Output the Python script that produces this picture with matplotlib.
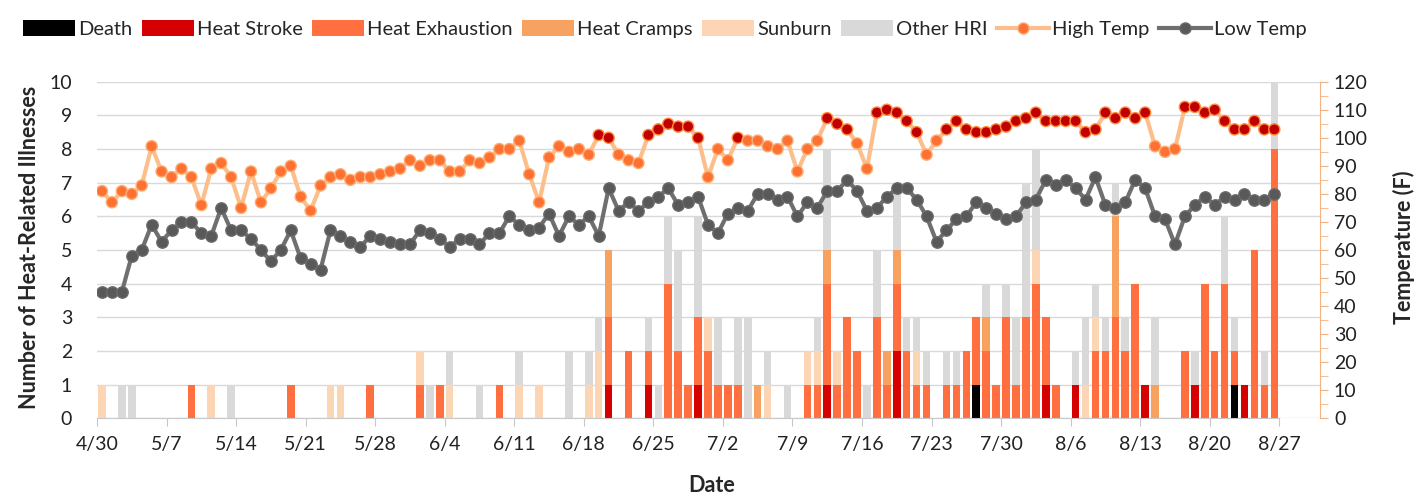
import numpy as np
import pandas as pd
import matplotlib as mpl
mpl.use("Agg")
import matplotlib.pyplot as plt
from matplotlib.patches import Patch
from matplotlib.lines import Line2D
from matplotlib.ticker import MultipleLocator

plt.rcParams["font.family"] = ["Lato", "DejaVu Sans"]

# daily values, 4/30 .. 8/26, one row per week
death = [
    0, 0, 0, 0, 0, 0, 0,  0, 0, 0, 0, 0, 0, 0,  0, 0, 0, 0, 0, 0, 0,
    0, 0, 0, 0, 0, 0, 0,  0, 0, 0, 0, 0, 0, 0,  0, 0, 0, 0, 0, 0, 0,
    0, 0, 0, 0, 0, 0, 0,  0, 0, 0, 0, 0, 0, 0,  0, 0, 0, 0, 0, 0, 0,
    0, 0, 0, 0, 0, 0, 0,  0, 0, 0, 0, 0, 0, 0,  0, 0, 0, 0, 0, 0, 0,
    0, 0, 0, 0, 1, 0, 0,  0, 0, 0, 0, 0, 0, 0,  0, 0, 0, 0, 0, 0, 0,
    0, 0, 0, 0, 0, 0, 0,  0, 0, 1, 0, 0, 0, 0,
]
heat_stroke = [
    0, 0, 0, 0, 0, 0, 0,  0, 0, 0, 0, 0, 0, 0,  0, 0, 0, 0, 0, 0, 0,
    0, 0, 0, 0, 0, 0, 0,  0, 0, 0, 0, 0, 0, 0,  0, 0, 0, 0, 0, 0, 0,
    0, 0, 0, 0, 0, 0, 0,  0, 0, 1, 0, 0, 0, 1,  0, 0, 0, 0, 1, 0, 0,
    0, 0, 0, 0, 0, 0, 0,  0, 0, 0, 1, 0, 0, 0,  0, 0, 0, 2, 0, 0, 0,
    0, 0, 0, 0, 0, 0, 0,  0, 0, 0, 0, 1, 0, 0,  1, 0, 0, 0, 0, 0, 0,
    1, 0, 0, 0, 0, 1, 0,  0, 0, 0, 1, 0, 0, 0,
]
heat_exhaustion = [
    0, 0, 0, 0, 0, 0, 0,  0, 0, 1, 0, 0, 0, 0,  0, 0, 0, 0, 0, 1, 0,
    0, 0, 0, 0, 0, 0, 1,  0, 0, 0, 0, 1, 0, 1,  0, 0, 0, 0, 0, 1, 0,
    0, 0, 0, 0, 0, 0, 0,  0, 0, 2, 0, 2, 0, 1,  0, 4, 2, 1, 2, 2, 1,
    1, 1, 0, 0, 0, 0, 0,  0, 1, 1, 3, 1, 3, 2,  0, 3, 1, 2, 2, 1, 1,
    0, 1, 1, 2, 2, 2, 1,  3, 1, 3, 4, 2, 1, 0,  0, 0, 2, 2, 3, 2, 4,
    0, 0, 0, 0, 2, 0, 4,  2, 4, 1, 0, 5, 1, 8,
]
heat_cramps = [
    0, 0, 0, 0, 0, 0, 0,  0, 0, 0, 0, 0, 0, 0,  0, 0, 0, 0, 0, 0, 0,
    0, 0, 0, 0, 0, 0, 0,  0, 0, 0, 0, 0, 0, 0,  0, 0, 0, 0, 0, 0, 0,
    0, 0, 0, 0, 0, 0, 0,  0, 0, 2, 0, 0, 0, 0,  0, 0, 0, 0, 0, 0, 0,
    0, 0, 0, 1, 0, 0, 0,  0, 0, 0, 1, 0, 0, 0,  0, 0, 1, 1, 0, 0, 0,
    0, 0, 0, 0, 0, 1, 0,  0, 0, 0, 0, 0, 0, 0,  0, 0, 0, 0, 3, 0, 0,
    0, 1, 0, 0, 0, 0, 0,  0, 0, 0, 0, 0, 0, 0,
]
sunburn = [
    1, 0, 0, 0, 0, 0, 0,  0, 0, 0, 0, 1, 0, 0,  0, 0, 0, 0, 0, 0, 0,
    0, 0, 1, 1, 0, 0, 0,  0, 0, 0, 0, 1, 0, 0,  1, 0, 0, 0, 0, 0, 0,
    1, 0, 1, 0, 0, 0, 0,  1, 2, 0, 0, 0, 0, 0,  0, 0, 0, 0, 0, 1, 0,
    0, 0, 0, 0, 1, 0, 0,  0, 1, 1, 0, 1, 0, 0,  0, 0, 0, 0, 0, 1, 0,
    0, 0, 0, 0, 0, 0, 0,  0, 0, 0, 1, 0, 0, 0,  0, 1, 1, 0, 0, 0, 0,
    0, 0, 0, 0, 0, 0, 0,  0, 0, 0, 0, 0, 0, 0,
]
other_hri = [
    0, 0, 1, 1, 0, 0, 0,  0, 0, 0, 0, 0, 0, 1,  0, 0, 0, 0, 0, 0, 0,
    0, 0, 0, 0, 0, 0, 0,  0, 0, 0, 0, 0, 1, 0,  1, 0, 0, 1, 0, 0, 0,
    1, 0, 0, 0, 0, 2, 0,  1, 1, 0, 0, 0, 0, 1,  1, 2, 3, 0, 3, 0, 2,
    0, 2, 3, 0, 1, 0, 1,  0, 0, 1, 3, 0, 0, 0,  1, 2, 0, 2, 1, 1, 1,
    0, 1, 1, 0, 0, 1, 0,  1, 2, 4, 3, 0, 0, 0,  1, 2, 1, 1, 1, 1, 0,
    0, 2, 0, 0, 0, 1, 0,  0, 2, 1, 0, 0, 1, 2,
]
high_temp = [
    81, 77, 81, 80, 83, 97, 88,  86, 89, 86, 76, 89, 91, 86,  75, 88, 77, 82, 88, 90, 79,
    74, 83, 86, 87, 85, 86, 86,  87, 88, 89, 92, 90, 92, 92,  88, 88, 92, 91, 93, 96, 96,
    99, 87, 77, 93, 97, 95, 96,  94, 101, 100, 94, 92, 91, 101,  103, 105, 104, 104, 100, 86, 96,
    92, 100, 99, 99, 97, 96, 99,  88, 96, 99, 107, 105, 103, 98,  89, 109, 110, 109, 106, 102, 94,
    99, 103, 106, 103, 102, 102, 103,  104, 106, 107, 109, 106, 106, 106,  106, 102, 103, 109, 107, 109, 107,
    109, 97, 95, 96, 111, 111, 109,  110, 106, 103, 103, 106, 103, 103,
]
low_temp = [
    45, 45, 45, 58, 60, 69, 63,  67, 70, 70, 66, 65, 75, 67,  67, 64, 60, 56, 60, 67, 57,
    55, 53, 67, 65, 63, 61, 65,  64, 63, 62, 62, 67, 66, 64,  61, 64, 64, 62, 66, 66, 72,
    69, 67, 68, 73, 65, 72, 69,  72, 65, 82, 74, 77, 74, 77,  79, 82, 76, 77, 79, 69, 66,
    73, 75, 74, 80, 80, 78, 79,  72, 77, 75, 81, 81, 85, 81,  74, 75, 79, 82, 82, 78, 72,
    63, 67, 71, 72, 77, 75, 73,  71, 72, 77, 78, 85, 83, 85,  82, 78, 86, 76, 75, 77, 85,
    82, 72, 71, 62, 72, 76, 79,  76, 79, 78, 80, 78, 78, 80,
]
start_date = "2019-04-30"

categories = ["Death", "Heat Stroke", "Heat Exhaustion", "Heat Cramps", "Sunburn", "Other HRI"]
bar_colors = ["#000000", "#D50000", "#FF6F3F", "#F8A261", "#FCD5B5", "#D9D9D9"]
series = [death, heat_stroke, heat_exhaustion, heat_cramps, sunburn, other_hri]

n = len(high_temp)
x = np.arange(n)

fig = plt.figure(figsize=(14.25, 4.95), dpi=100)
ax = fig.add_axes([97 / 1425, 76.7 / 495, 1223 / 1425, 336.6 / 495])

bottom = np.zeros(n)
for vals, c in zip(series, bar_colors):
    v = np.array(vals, dtype=float)
    ax.bar(x, v, bottom=bottom, width=0.76, color=c, linewidth=0)
    bottom += v

ax.set_xlim(-0.5, 122.6)
ax.set_ylim(0, 10)
ax.set_yticks(range(0, 11))
ax.yaxis.grid(True, color="#D9D9D9", lw=1)
ax.set_axisbelow(True)
for s in ("top", "left", "right"):
    ax.spines[s].set_visible(False)
ax.spines["bottom"].set_color("#C8C8C8")
ax.spines["bottom"].set_bounds(-0.5, n - 0.5)
ax.tick_params(axis="y", length=0, pad=18, labelsize=14, labelcolor="#222222")

# weekly date ticks sit on the left edge of each day's slot
week_dates = pd.date_range(start_date, periods=n // 7 + 1, freq="7D")
ax.set_xticks(np.arange(len(week_dates)) * 7 - 0.5)
ax.set_xticklabels([f"{d.month}/{d.day}" for d in week_dates])
ax.tick_params(axis="x", length=6, color="#C8C8C8", pad=7, labelsize=14, labelcolor="#222222")

ax2 = ax.twinx()
ax2.plot(x, high_temp, color="#FCBF8C", lw=3, zorder=2)
hot = np.array(high_temp) >= 100
ax2.scatter(x, high_temp, s=64, zorder=3,
            c=np.where(hot, "#C00000", "#FF7033"),
            edgecolors=np.where(hot, "#FF8B3D", "#FDAE72"), linewidths=1)
ax2.plot(x, low_temp, color="#6F6F6F", lw=3, marker="o", ms=8.2,
         mfc="#595959", mec="#6A6A6A", zorder=2)
ax2.set_ylim(0, 120)
ax2.yaxis.set_major_locator(MultipleLocator(10))
ax2.yaxis.set_minor_locator(MultipleLocator(5))
for s in ("top", "left", "bottom"):
    ax2.spines[s].set_visible(False)
ax2.spines["right"].set_color("#F4B183")
ax2.tick_params(axis="y", which="both", length=6, color="#F4B183", pad=4,
                labelsize=14, labelcolor="#222222")

fig.text(30 / 1425, 0.5, "Number of Heat-Related Illnesses", rotation=90,
         ha="center", va="center", fontsize=15.5, fontweight="bold", color="#262626")
fig.text(1404 / 1425, 0.5, "Temperature (F)", rotation=90,
         ha="center", va="center", fontsize=15.5, fontweight="bold", color="#262626")
fig.text(712 / 1425, 1 - 485 / 495, "Date", ha="center", va="center",
         fontsize=15.5, fontweight="bold", color="#262626")

handles = [Patch(facecolor=c, edgecolor="none") for c in bar_colors]
handles += [
    Line2D([], [], color="#FCBF8C", lw=3, marker="o", ms=8, mfc="#FF7033", mec="#FDAE72"),
    Line2D([], [], color="#6F6F6F", lw=3, marker="o", ms=8, mfc="#595959", mec="#6A6A6A"),
]
labels = categories + ["High Temp", "Low Temp"]
fig.legend(handles, labels, loc="center", bbox_to_anchor=(665 / 1425, 1 - 29 / 495),
           ncol=8, frameon=False, fontsize=14.5, handlelength=2.6, handleheight=0.85,
           handletextpad=0.15, columnspacing=0.45, labelcolor="#262626")

fig.savefig("out.png", dpi=100)
